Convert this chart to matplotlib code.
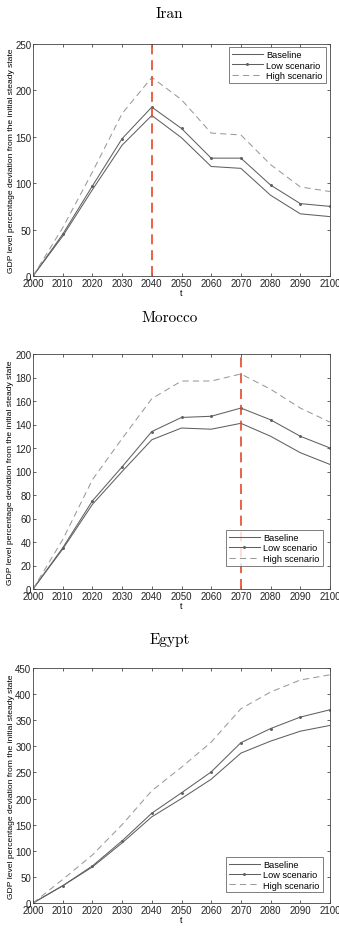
import numpy as np
import matplotlib
matplotlib.use("Agg")
import matplotlib.pyplot as plt

plt.rcParams['font.family'] = ['Liberation Sans', 'DejaVu Sans']

years = [2000, 2010, 2020, 2030, 2040, 2050, 2060, 2070, 2080, 2090, 2100]

# Iran
iran_base = [0, 43, 93, 141, 173, 149, 118, 116, 87, 67, 64]
iran_low = [0, 45, 97, 148, 182, 159, 127, 127, 98, 78, 75]
iran_high = [0, 52, 112, 175, 214, 190, 154, 152, 120, 96, 91]

# Morocco
mor_base = [0, 34, 72, 100, 127, 137, 136, 141, 130, 116, 106]
mor_low = [0, 35, 75, 104, 134, 146, 147, 154, 144, 130, 120]
mor_high = [0, 42, 93, 128, 162, 177, 177, 183, 170, 154, 142]

# Egypt
egy_base = [0, 33, 69, 115, 165, 200, 237, 287, 310, 329, 340]
egy_low = [0, 33, 71, 119, 172, 211, 251, 307, 334, 356, 370]
egy_high = [0, 45, 92, 150, 215, 260, 308, 372, 404, 427, 437]

countries = ["Iran", "Morocco", "Egypt"]
series = [(iran_base, iran_low, iran_high),
          (mor_base, mor_low, mor_high),
          (egy_base, egy_low, egy_high)]
ymax = [250, 200, 450]
ystep = [50, 20, 50]
vline = [2040, 2070, None]
# legend anchor (right, bottom or top) in axes fraction
legend_loc = ["upper right", "lower right", "lower right"]
legend_anchor = [(0.985, 0.985), (0.975, 0.10), (0.975, 0.045)]

W, H = 339, 945
fig = plt.figure(figsize=(W / 100, H / 100), dpi=100)

# axes boxes in pixels: (left, top, right, bottom)
boxes = [(33, 45, 330, 277), (33, 355, 330, 590), (33, 669, 330, 904)]
title_y = [14, 318, 640]

for i in range(3):
    l, t, r, b = boxes[i]
    ax = fig.add_axes([l / W, 1 - b / H, (r - l) / W, (b - t) / H])
    base, low, high = series[i]
    ax.plot(years, base, color='#606060', lw=0.75, label='Baseline')
    ax.plot(years, low, color='#606060', lw=0.75, marker='.', ms=2.3, label='Low scenario')
    ax.plot(years, high, color='#999999', lw=0.75, ls=(0, (6, 4)), label='High scenario')
    if vline[i] is not None:
        ax.axvline(vline[i], color='#e04a28', lw=1.2, ls=(0, (6, 3.5)))
    ax.set_xlim(2000, 2100)
    ax.set_ylim(0, ymax[i])
    ax.set_xticks(years)
    ax.set_yticks(np.arange(0, ymax[i] + 1, ystep[i]))
    ax.tick_params(direction='in', top=True, right=True, labelsize=7, length=2.5,
                   width=0.5, pad=1.2, colors='#222222')
    for s in ax.spines.values():
        s.set_linewidth(0.6)
        s.set_color('#444444')
    ax.set_xlabel('t', fontsize=6.5, labelpad=0)
    ax.set_ylabel('GDP level percentage deviation from the initial steady state',
                  fontsize=6.1, labelpad=0.5)
    leg = ax.legend(loc=legend_loc[i], bbox_to_anchor=legend_anchor[i], fontsize=6.6,
                    frameon=True, fancybox=False, edgecolor='#444444', handlelength=3.4,
                    borderpad=0.3, labelspacing=0.15, handletextpad=0.4, borderaxespad=0)
    leg.get_frame().set_linewidth(0.6)
    fig.text(0.5, 1 - title_y[i] / H, countries[i], ha='center', va='center',
             fontsize=11, family=['cmr10', 'DejaVu Serif'])

fig.savefig('out.png', dpi=100)
